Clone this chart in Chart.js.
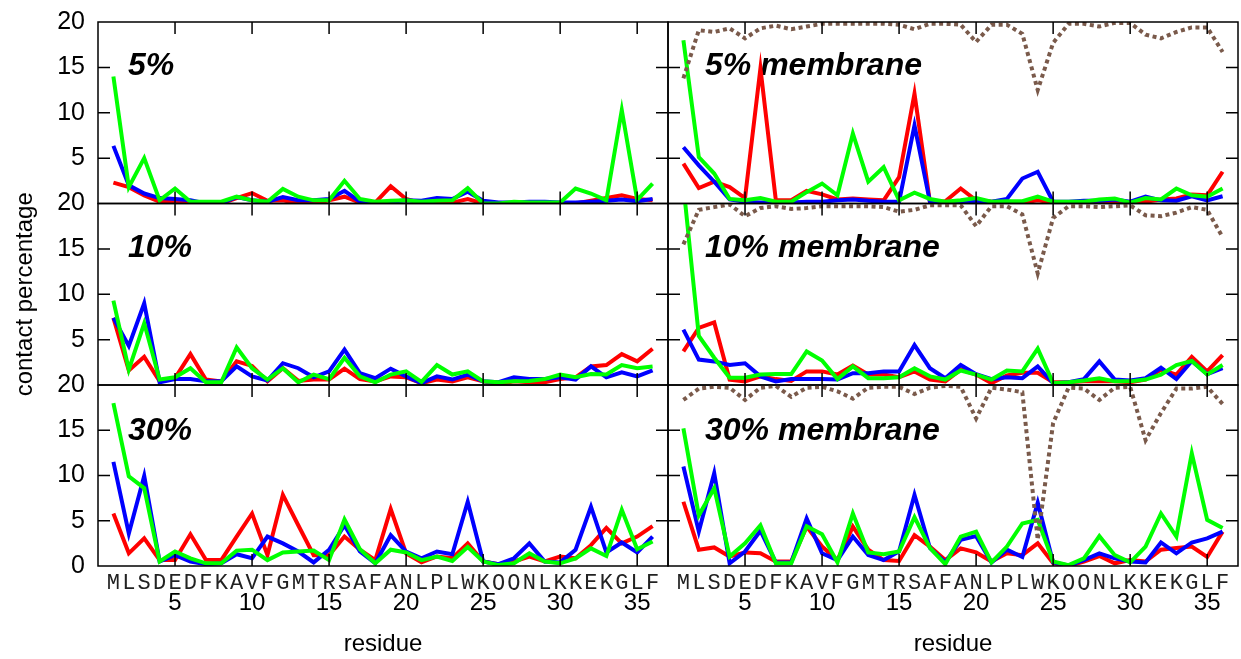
<!DOCTYPE html>
<html>
<head>
<meta charset="utf-8">
<script src="https://cdn.jsdelivr.net/npm/chart.js@4/dist/chart.umd.min.js"></script>
<style>
  html, body { margin: 0; padding: 0; background: #fff; }
  #wrap { position: relative; width: 1241px; height: 659px; overflow: hidden; }
  #wrap canvas { position: absolute; left: 0; top: 0; }
</style>
</head>
<body>
<div id="wrap">
  <canvas id="p5" width="1241" height="659"></canvas>
  <canvas id="pM5" width="1241" height="659"></canvas>
  <canvas id="p10" width="1241" height="659"></canvas>
  <canvas id="pM10" width="1241" height="659"></canvas>
  <canvas id="p30" width="1241" height="659"></canvas>
  <canvas id="pM30" width="1241" height="659"></canvas>
</div>
<script>
// residue sequence, one letter per position 1..36
const residues = [...'MLSDEDFKAVFGMTRSAFANLPLWKQQNLKKEKGLF'];
const xTickMarks = [5, 10, 15, 20, 25, 30, 35];
const yTickMarks = [5, 10, 15];
const panelTitles = ['5%', '5% membrane', '10%', '10% membrane', '30%', '30% membrane'];

// 5%
const red5   = [2.3, 1.8, 0.9, 0.2, 0.2, 0.2, 0, 0, 0.6, 1.15, 0.3, 0.35, 0, 0, 0.35, 0.75, 0.1, 0.1, 1.9, 0.5, 0, 0.1, 0.1, 0.5, 0, 0, 0, 0.1, 0, 0, 0, 0.3, 0.6, 0.9, 0.5, 0.35];
const blue5  = [6.35, 2.0, 1.1, 0.6, 0.5, 0.35, 0, 0.05, 0.7, 0.35, 0.2, 0.7, 0.35, 0.35, 0.5, 1.4, 0.2, 0.1, 0.2, 0.35, 0.3, 0.6, 0.5, 1.3, 0.3, 0.1, 0.1, 0.2, 0.2, 0.1, 0.1, 0.2, 0.3, 0.45, 0.25, 0.5];
const green5 = [14, 1.8, 5.0, 0.35, 1.65, 0.2, 0.2, 0.2, 0.75, 0.35, 0.2, 1.6, 0.75, 0.35, 0.35, 2.5, 0.5, 0.2, 0.3, 0.35, 0.2, 0.3, 0.35, 1.7, 0, 0, 0.2, 0.1, 0.1, 0.1, 1.65, 1.1, 0.35, 10.3, 0.4, 2.2];

// 5% membrane
const redM5   = [4.4, 1.7, 2.4, 1.8, 0.6, 14.9, 0.35, 0.35, 1.4, 1.0, 0.45, 0.55, 0.45, 0.35, 2.9, 12.1, 0.2, 0.25, 1.65, 0.35, 0.2, 0.2, 0.1, 0.35, 0.1, 0.1, 0.1, 0.1, 0.1, 0, 0.2, 0.45, 0.55, 1.0, 0.9, 3.5];
const blueM5  = [6.2, 4.2, 2.4, 0.45, 0.2, 0.1, 0.1, 0.1, 0.2, 0.2, 0.35, 0.45, 0.3, 0.2, 0.2, 8.6, 0.2, 0.1, 0, 0.3, 0.2, 0.5, 2.75, 3.5, 0.2, 0.2, 0.3, 0.3, 0.45, 0.2, 0.75, 0.35, 0.3, 0.8, 0.35, 0.8];
const greenM5 = [18.0, 5.1, 3.3, 0.5, 0.35, 0.6, 0.2, 0.2, 1.25, 2.2, 0.9, 7.7, 2.4, 4.0, 0.35, 1.2, 0.5, 0.2, 0.35, 0.6, 0.2, 0.25, 0.25, 0.75, 0.2, 0.2, 0.2, 0.45, 0.55, 0.1, 0.6, 0.45, 1.65, 0.9, 0.75, 1.65];
const brownM5 = [13.8, 19.1, 18.9, 19.3, 18.2, 19.3, 19.6, 19.2, 19.5, 19.8, 19.8, 19.8, 19.8, 19.8, 19.7, 19.2, 19.8, 19.8, 19.7, 17.8, 19.7, 19.7, 18.7, 12.5, 17.7, 19.8, 19.8, 19.5, 19.9, 19.9, 18.6, 18.2, 18.9, 19.4, 19.4, 16.7];

// 10%
const red10   = [7.4, 1.6, 3.1, 0.4, 0.75, 3.4, 0.6, 0.4, 2.6, 2.1, 0.4, 1.85, 0.45, 0.6, 0.6, 1.8, 0.65, 0.4, 0.95, 0.85, 0.2, 0.6, 0.4, 0.85, 0.4, 0.1, 0.4, 0.3, 0.3, 0.65, 0.85, 2.05, 2.2, 3.4, 2.6, 4.0];
const blue10  = [7.4, 4.3, 9.0, 0.3, 0.65, 0.65, 0.4, 0.4, 2.05, 0.95, 0.5, 2.4, 1.85, 0.85, 1.5, 3.9, 1.3, 0.75, 1.8, 0.95, 0.2, 0.95, 0.6, 1.15, 0.4, 0.3, 0.85, 0.65, 0.65, 0.85, 0.6, 2.05, 0.85, 1.4, 0.95, 1.6];
const green10 = [9.3, 1.7, 6.8, 0.6, 0.85, 1.85, 0.3, 0.3, 4.15, 1.85, 0.6, 1.85, 0.3, 1.15, 0.65, 3.0, 0.95, 0.3, 1.15, 1.5, 0.35, 2.2, 1.15, 1.5, 0.4, 0.3, 0.4, 0.45, 0.65, 1.15, 0.85, 1.2, 1.15, 2.2, 1.85, 2.05];

// 10% membrane
const redM10   = [3.7, 6.3, 6.9, 0.6, 0.4, 0.95, 0.65, 0.45, 1.5, 1.5, 1.15, 2.15, 1.15, 1.15, 0.85, 1.5, 0.6, 0.4, 1.7, 1.15, 0.2, 1.05, 1.35, 1.35, 0.3, 0.3, 0.4, 0.4, 0.4, 0.3, 0.6, 1.7, 1.15, 3.1, 1.5, 3.3];
const blueM10  = [6.1, 2.8, 2.6, 2.2, 2.4, 0.95, 0.4, 0.65, 0.65, 0.65, 0.6, 1.3, 1.3, 1.5, 1.5, 4.4, 1.85, 0.75, 2.2, 1.2, 0.65, 0.85, 0.75, 2.05, 0.2, 0.3, 0.65, 2.6, 0.6, 0.5, 0.75, 1.9, 0.65, 2.65, 1.2, 1.85];
const greenM10 = [22, 5.4, 3.0, 0.8, 0.8, 1.15, 1.2, 1.2, 3.7, 2.7, 0.65, 2.05, 0.75, 0.75, 0.85, 1.85, 0.95, 0.6, 1.6, 1.15, 0.6, 1.6, 1.5, 4.0, 0.2, 0.3, 0.5, 0.75, 0.4, 0.4, 0.6, 1.15, 2.2, 2.65, 1.15, 2.2];
const brownM10 = [15.5, 19.3, 19.6, 19.9, 18.6, 19.5, 19.7, 19.4, 19.5, 19.7, 19.7, 19.7, 19.7, 19.6, 19.1, 19.3, 19.8, 19.8, 19.8, 17.5, 19.7, 19.7, 18.8, 12.3, 18.4, 19.7, 19.7, 19.6, 19.7, 19.8, 18.7, 18.6, 19.0, 19.6, 19.3, 16.3];

// 30%
const red30   = [5.8, 1.4, 3.05, 0.65, 0.65, 3.5, 0.7, 0.65, 3.25, 5.8, 1.2, 7.85, 4.5, 1.2, 1.2, 3.25, 1.8, 0.65, 6.3, 1.4, 0.4, 1.05, 0.85, 2.5, 0.5, 0.2, 0.5, 1.05, 0.5, 1.05, 0.85, 2.3, 4.2, 2.5, 3.25, 4.4];
const blue30  = [11.5, 3.6, 9.95, 0.5, 1.2, 0.5, 0.2, 0.3, 1.3, 0.85, 3.25, 2.5, 1.6, 0.4, 1.8, 4.5, 1.6, 0.3, 3.4, 1.6, 0.85, 1.6, 1.3, 7.1, 0.5, 0.2, 0.85, 2.5, 0.5, 0.4, 1.8, 6.55, 1.5, 2.6, 1.5, 3.25];
const green30 = [18.0, 9.9, 8.6, 0.5, 1.6, 0.85, 0.3, 0.3, 1.7, 1.8, 0.65, 1.5, 1.6, 1.7, 0.65, 5.15, 1.85, 0.3, 1.8, 1.5, 0.65, 1.05, 0.55, 2.1, 0.5, 0.1, 0.3, 1.4, 0.5, 0.3, 0.85, 1.95, 1.1, 6.2, 1.85, 2.7];

// 30% membrane
const redM30   = [7.1, 1.8, 2.05, 1.05, 1.5, 1.4, 0.5, 0.5, 4.35, 2.15, 0.65, 4.35, 1.8, 0.65, 0.55, 3.4, 2.15, 0.65, 1.95, 1.5, 0.5, 1.4, 1.2, 2.5, 0.3, 0, 0.5, 1.1, 0.3, 0.65, 0.5, 1.8, 2.0, 2.15, 1.0, 3.8];
const blueM30  = [11.0, 3.8, 10.25, 0.3, 1.6, 3.9, 0.4, 0.4, 5.25, 1.4, 0.65, 3.25, 1.2, 0.65, 1.6, 7.85, 2.0, 0.4, 2.9, 3.3, 0.4, 1.8, 1.0, 7.0, 0.4, 0.05, 0.65, 1.4, 0.85, 0.5, 0.4, 2.6, 1.4, 2.6, 3.05, 3.8];
const greenM30 = [15.2, 5.6, 8.6, 1.05, 2.5, 4.5, 0.3, 0.3, 4.4, 3.5, 0.4, 5.8, 1.5, 1.3, 1.6, 5.4, 2.0, 0.2, 3.25, 3.8, 0.4, 2.15, 4.7, 5.1, 0.5, 0.1, 0.85, 3.3, 1.2, 0.4, 2.15, 5.8, 3.25, 12.45, 5.1, 4.2];
const brownM30 = [18.35, 19.6, 19.8, 19.7, 18.35, 19.7, 19.9, 18.7, 19.7, 19.8, 19.3, 18.5, 19.7, 19.8, 19.8, 19.0, 19.7, 19.9, 19.8, 16.3, 19.7, 19.5, 19.2, 2.9, 15.8, 19.7, 19.6, 18.35, 19.7, 19.8, 13.9, 16.9, 19.6, 19.6, 19.8, 17.9];

// page geometry of the six frames
const colLeft = [98, 668];
const colRight = [668, 1238];
const rowTop = [22, 203.5, 385];
const rowBottom = [203.5, 385, 566];
const W = 1241, H = 659;
const letterRowH = 24;

const sans = '"Liberation Sans", Arial, sans-serif';

const panelFrame = {
  id: 'panelFrame',
  beforeDatasetsDraw(chart, args, opts) {
    const { ctx, chartArea: a } = chart;
    ctx.save();
    ctx.font = 'italic bold 32px ' + sans;
    ctx.fillStyle = '#000';
    ctx.textBaseline = 'alphabetic';
    ctx.fillText(opts.title, a.left + opts.dx, a.top + opts.dy);
    ctx.restore();
  },
  afterDatasetsDraw(chart) {
    const { ctx, chartArea: a, scales } = chart;
    const x = scales.x, y = scales.y;
    ctx.save();
    ctx.strokeStyle = '#000';
    ctx.lineWidth = 1.5;
    ctx.strokeRect(a.left, a.top, a.width, a.height);
    ctx.beginPath();
    xTickMarks.forEach(v => {
      const px = x.getPixelForValue(v);
      ctx.moveTo(px, a.top); ctx.lineTo(px, a.top + 12);
      ctx.moveTo(px, a.bottom); ctx.lineTo(px, a.bottom - 12);
    });
    yTickMarks.forEach(v => {
      const py = y.getPixelForValue(v);
      ctx.moveTo(a.left, py); ctx.lineTo(a.left + 12, py);
      ctx.moveTo(a.right, py); ctx.lineTo(a.right - 12, py);
    });
    ctx.stroke();
    ctx.restore();
  }
};

function series(values, color, order, dotted) {
  return {
    data: values.map((v, i) => ({ x: i + 1, y: v })),
    borderColor: color,
    borderWidth: 4,
    borderDash: dotted ? [4, 3.5] : [],
    borderCapStyle: 'butt',
    pointRadius: 0,
    tension: 0,
    fill: false,
    order: order
  };
}

// keep the frames exactly where they are: no extra room for overhanging labels
function noOverhang(s) {
  s.paddingTop = 0; s.paddingBottom = 0; s.paddingLeft = 0; s.paddingRight = 0;
}

function makePanel(id, col, row, lines) {
  const scales = {
    x: {
      type: 'linear', min: 0, max: 37, position: 'bottom', weight: 0,
      display: row === 2,
      grid: { display: false, drawTicks: false },
      border: { display: false },
      afterBuildTicks: s => { s.ticks = residues.map((r, i) => ({ value: i + 1 })); },
      ticks: {
        autoSkip: false, maxRotation: 0, padding: 4,
        font: { family: '"Liberation Mono", "Courier New", monospace', size: 22 },
        color: '#222',
        callback: v => residues[v - 1] || ''
      },
      afterFit: s => { s.height = row === 2 ? letterRowH : 0; noOverhang(s); }
    },
    y: {
      min: 0, max: 20,
      display: col === 0,
      grid: { display: false, drawTicks: false },
      border: { display: false },
      ticks: {
        stepSize: 5, padding: 13, color: '#000',
        font: { family: sans, size: 25 },
        callback: v => (v === 0 && row < 2) ? '' : v
      },
      title: {
        display: row === 1, text: 'contact percentage', color: '#000',
        font: { family: sans, size: 24 }, padding: { top: 11, bottom: 0 }
      },
      afterFit: s => { s.width = col === 0 ? 98 : 0; noOverhang(s); }
    }
  };
  if (row === 2) {
    scales.xNum = {
      type: 'linear', min: 0, max: 37, position: 'bottom', weight: 1,
      grid: { display: false, drawTicks: false },
      border: { display: false },
      afterBuildTicks: s => { s.ticks = xTickMarks.map(v => ({ value: v })); },
      ticks: {
        padding: -1, maxRotation: 0, color: '#000',
        font: { family: sans, size: 24 }
      },
      title: {
        display: true, text: 'residue', color: '#000',
        font: { family: sans, size: 24 }, padding: { top: 0, bottom: 0 }
      },
      afterFit: s => { s.height = H - rowBottom[2] - letterRowH; noOverhang(s); }
    };
  }
  return new Chart(document.getElementById(id), {
    type: 'line',
    data: { datasets: lines },
    options: {
      responsive: false,
      animation: false,
      devicePixelRatio: 1,
      layout: {
        padding: {
          left: col === 0 ? 0 : colLeft[1],
          right: W - colRight[col],
          top: rowTop[row],
          bottom: row === 2 ? 0 : H - rowBottom[row]
        }
      },
      scales: scales,
      plugins: {
        legend: { display: false },
        tooltip: { enabled: false },
        panelFrame: {
          title: panelTitles[row * 2 + col],
          dx: col === 0 ? 30 : 37,
          dy: row === 2 ? 55 : 53
        }
      }
    },
    plugins: [panelFrame]
  });
}

const RED = '#ff0000', BLUE = '#0000ff', GREEN = '#00ff00', BROWN = '#7a5a4b';

makePanel('p5', 0, 0, [series(red5, RED, 3), series(blue5, BLUE, 2), series(green5, GREEN, 1)]);
makePanel('pM5', 1, 0, [series(redM5, RED, 3), series(blueM5, BLUE, 2), series(greenM5, GREEN, 1), series(brownM5, BROWN, 0, true)]);
makePanel('p10', 0, 1, [series(red10, RED, 3), series(blue10, BLUE, 2), series(green10, GREEN, 1)]);
makePanel('pM10', 1, 1, [series(redM10, RED, 3), series(blueM10, BLUE, 2), series(greenM10, GREEN, 1), series(brownM10, BROWN, 0, true)]);
makePanel('p30', 0, 2, [series(red30, RED, 3), series(blue30, BLUE, 2), series(green30, GREEN, 1)]);
makePanel('pM30', 1, 2, [series(redM30, RED, 3), series(blueM30, BLUE, 2), series(greenM30, GREEN, 1), series(brownM30, BROWN, 0, true)]);
</script>
</body>
</html>
